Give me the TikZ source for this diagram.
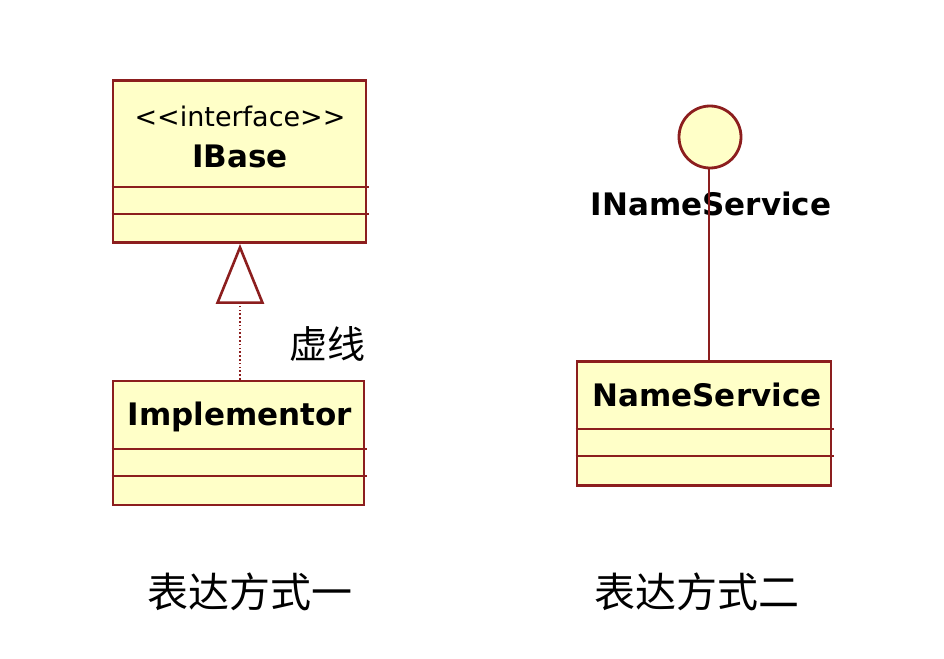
\documentclass[tikz,border=0pt]{standalone}
\usepackage{fontspec}
\setmainfont{DejaVu Sans}
\newfontfamily\cjk{Noto Sans CJK SC}
\usetikzlibrary{arrows.meta}
\definecolor{umlborder}{RGB}{140,30,30}
\definecolor{umlfill}{RGB}{255,255,200}
\tikzset{
  umlbox/.style={draw=umlborder, fill=umlfill, line width=2.8pt, rectangle, inner sep=0pt},
  sep/.style={draw=umlborder, line width=2.8pt},
  bold/.style={font=\fontsize{31}{31}\selectfont\bfseries, inner sep=0pt, anchor=base},
  cjklabel/.style={font=\cjk\fontsize{38}{38}\selectfont, inner sep=0pt},
  caption/.style={font=\cjk\fontsize{41}{41}\selectfont, inner sep=0pt},
}
\begin{document}
\begin{tikzpicture}[x=1pt,y=-1pt]
\useasboundingbox (0,0) rectangle (944,658);
\fill[white] (0,0) rectangle (944,658);
% IBase
\node[umlbox, minimum width=253pt, minimum height=162pt] (ibase) at (239.5,161.5) {};
\draw[sep] (ibase.west |- 0,187) coordinate (ib1) -- ([xshift=2pt]ibase.east |- 0,187);
\draw[sep] (ibase.west |- 0,214) coordinate (ib2) -- ([xshift=2pt]ibase.east |- 0,214);
\node[font=\fontsize{27}{27}\selectfont, inner sep=0pt, anchor=base] (stereo) at (240,127) {<{}<interface>{}>};
\node[bold] (ibasename) at (240,167) {IBase};
% Implementor
\node[umlbox, minimum width=251pt, minimum height=124pt] (impl) at (238.5,443) {};
\draw[sep] (impl.west |- 0,449) -- ([xshift=2pt]impl.east |- 0,449);
\draw[sep] (impl.west |- 0,476) -- ([xshift=2pt]impl.east |- 0,476);
\node[bold] (implname) at (240,425) {Implementor};
% realization
\draw[umlborder, line width=2.6pt, dash pattern=on 1.6pt off 2.2pt, -{Triangle[open, length=60pt, width=48pt, line width=2.6pt, fill=white]}]
  (impl.north -| 240,0) -- (ibase.south -| 240,0);
\node[cjklabel, anchor=center] (dash) at (327,344) {虚线};
% NameService
\node[draw=umlborder, fill=umlfill, line width=2.8pt, circle, minimum size=62pt, inner sep=0pt] (iface) at (710,137) {};
\node[bold] (ifacename) at (711,215) {INameService};
\node[umlbox, minimum width=254pt, minimum height=124pt] (ns) at (704,423.5) {};
\draw[sep] (ns.west |- 0,429) -- ([xshift=2pt]ns.east |- 0,429);
\draw[sep] (ns.west |- 0,456) -- ([xshift=2pt]ns.east |- 0,456);
\node[bold] (nsname) at (707,406) {NameService};
\draw[umlborder, line width=2.6pt] (iface.south -| 709,0) -- (ns.north -| 709,0);
% captions
\node[caption, anchor=center] (cap1) at (250,592) {表达方式一};
\node[caption, anchor=center] (cap2) at (697,592) {表达方式二};
\end{tikzpicture}
\end{document}
